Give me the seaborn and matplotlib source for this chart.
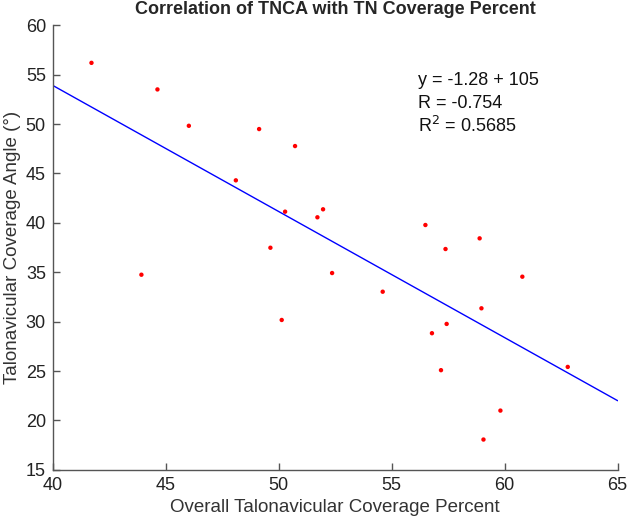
import pandas as pd
import matplotlib
matplotlib.use("Agg")
import matplotlib.pyplot as plt
import seaborn as sns

# values
coverage_pct = [41.71, 44.63, 46.02, 49.13, 50.72, 48.10, 50.28, 51.96, 51.71,
                49.63, 52.36, 43.92, 50.13, 56.49, 58.89, 57.38, 60.78, 54.60,
                58.97, 57.43, 56.78, 57.18, 62.79, 59.81, 59.06]
coverage_angle = [56.19, 53.50, 49.82, 49.49, 47.77, 44.30, 41.13, 41.37, 40.56,
                  37.48, 34.92, 34.75, 30.17, 39.78, 38.43, 37.35, 34.55, 33.03,
                  31.35, 29.77, 28.83, 25.09, 25.42, 21.00, 18.07]
fit_x = [40, 65]
fit_y = [53.9, 22.0]
stats_lines = ["y = -1.28 + 105", "R = -0.754", "R$^2$ = 0.5685"]


def main():
    df = pd.DataFrame({"pct": coverage_pct, "angle": coverage_angle})
    df_fit = pd.DataFrame({"pct": fit_x, "angle": fit_y})

    sns.set_style("white")
    plt.rcParams["font.family"] = ["Liberation Sans", "DejaVu Sans"]

    fig = plt.figure(figsize=(6.29, 5.25), dpi=100)
    ax = fig.add_axes([0.084, 0.105, 0.898, 0.847])

    sns.lineplot(data=df_fit, x="pct", y="angle", color="#0000ff",
                 linewidth=1.0, ax=ax)
    sns.scatterplot(data=df, x="pct", y="angle", color="#ff0000", s=10,
                    edgecolor="none", ax=ax, zorder=3)

    ax.set_xlim(40, 65)
    ax.set_ylim(15, 60)
    ax.set_xticks(range(40, 66, 5))
    ax.set_yticks(range(15, 61, 5))
    sns.despine(ax=ax)
    for side in ["left", "bottom"]:
        ax.spines[side].set_color("#555555")
        ax.spines[side].set_linewidth(1.0)
    ax.tick_params(bottom=True, left=True, direction="in", length=5,
                   width=1.0, color="#555555", labelsize=13,
                   labelcolor="#222222", pad=5)

    ax.set_xlabel("Overall Talonavicular Coverage Percent", fontsize=13.5,
                  color="#333333")
    ax.set_ylabel("Talonavicular Coverage Angle (°)", fontsize=13.5,
                  color="#333333", labelpad=3)
    ax.set_title("Correlation of TNCA with TN Coverage Percent",
                 fontsize=13, fontweight="bold", pad=8)

    for i, line in enumerate(stats_lines):
        ax.text(56.15, 54.4 - i * 2.3, line, fontsize=13, va="center",
                ha="left", color="#111111")

    fig.savefig("out.png", dpi=100)


if __name__ == "__main__":
    main()
